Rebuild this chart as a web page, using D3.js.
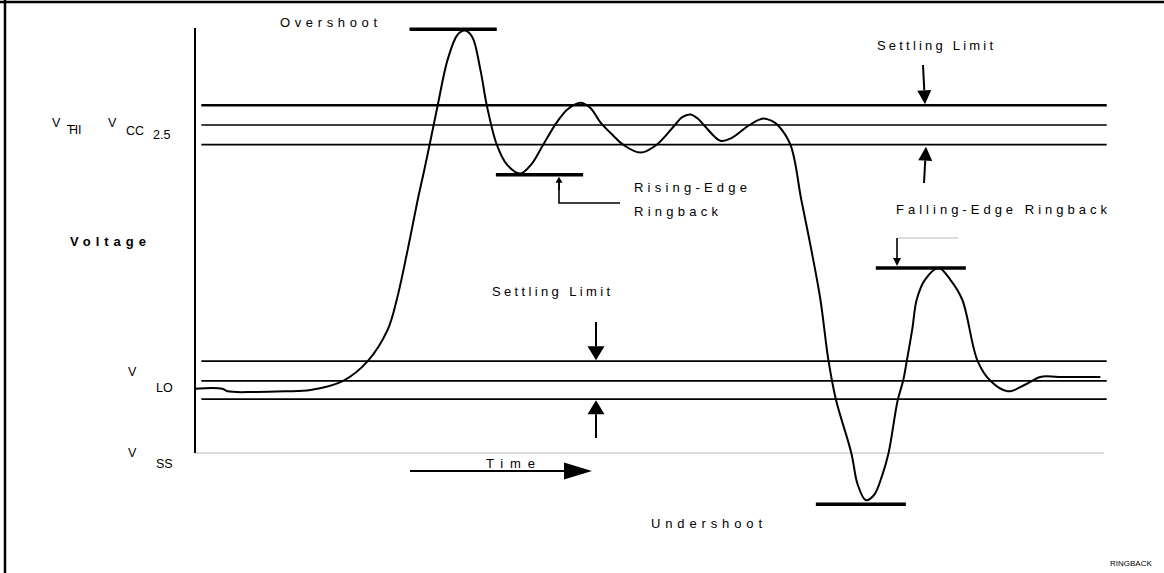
<!DOCTYPE html>
<html>
<head>
<meta charset="utf-8">
<script src="https://cdn.jsdelivr.net/npm/d3@7"></script>
<style>
  body { margin: 0; background: #fff; }
  text { font-family: "Liberation Sans", Arial, sans-serif; fill: #000; }
</style>
</head>
<body>
<script>
var width = 1164;
var height = 573;

// signal waveform (time in arbitrary units, voltage in V)
var sigTime = [0, 3.0, 3.6, 6.6, 9.9, 12.7, 16.3, 19.0, 21.2, 22.2, 23.4, 24.5, 25.2, 25.9, 26.7, 27.8, 28.9, 29.7,
    30.5, 31.4, 32.1, 33.2, 34.3, 35.8, 37.0, 38.3, 39.8, 41.0, 42.4, 43.5, 44.6, 46.0, 47.1, 49.0, 50.8, 52.8,
    53.6, 54.5, 55.3, 56.1, 57.8, 59.0, 61.0, 62.5, 63.5, 64.1, 65.5, 66.7, 67.8, 68.8, 69.7, 70.5, 72.2, 72.9,
    73.8, 74.7, 75.6, 76.3, 77.3, 77.9, 78.3, 78.9, 79.4, 80.3, 81.8, 83.1, 84.4, 86.1, 87.5, 89.4, 91.3, 93.0,
    95.0, 99.6];
var sigVolts = [0.49, 0.49, 0.47, 0.465, 0.47, 0.48, 0.55, 0.70, 0.94, 1.17, 1.55, 1.93, 2.15, 2.38, 2.65, 3.0, 3.19, 3.22,
    3.17, 2.92, 2.65, 2.35, 2.20, 2.13, 2.20, 2.35, 2.52, 2.62, 2.67, 2.63, 2.52, 2.42, 2.35, 2.29, 2.35, 2.50,
    2.56, 2.58, 2.55, 2.49, 2.38, 2.40, 2.50, 2.55, 2.53, 2.50, 2.35, 1.93, 1.55, 1.17, 0.70, 0.41, 0, -0.24,
    -0.36, -0.32, -0.17, 0, 0.40, 0.55, 0.70, 0.94, 1.17, 1.32, 1.41, 1.32, 1.17, 0.70, 0.55, 0.47, 0.52, 0.58,
    0.58, 0.58];

// settling limit bands
var upperLevels = [2.65, 2.5, 2.35];
var lowerLevels = [0.70, 0.55, 0.41];

// peak / ringback marker bars
var markNames = ["overshoot", "risingRingback", "undershoot", "fallingRingback"];
var markStart = [23.6, 33.1, 68.3, 74.9];
var markEnd = [33.2, 42.7, 78.2, 84.8];
var markLevel = [3.23, 2.12, -0.39, 1.41];

var svg = d3.select("body")
    .append("svg")
    .attr("width", width)
    .attr("height", height);

var x = d3.scaleLinear().domain([0, 100]).range([195, 1104]);
var y = d3.scaleLinear().domain([0, 2.5]).range([453, 125]);

// frame (top + left edges)
svg.append("line").attr("x1", 0).attr("x2", width).attr("y1", 2).attr("y2", 2)
    .attr("stroke", "#000").attr("stroke-width", 2.5);
svg.append("line").attr("x1", 5).attr("x2", 5).attr("y1", 0).attr("y2", height)
    .attr("stroke", "#000").attr("stroke-width", 2.5);

// ground line (0 V) and vertical axis
svg.append("line").attr("x1", x(0)).attr("x2", x(100)).attr("y1", y(0)).attr("y2", y(0))
    .attr("stroke", "#dcdcdc").attr("stroke-width", 2);
svg.append("line").attr("x1", x(0)).attr("x2", x(0)).attr("y1", 28).attr("y2", y(0))
    .attr("stroke", "#000").attr("stroke-width", 2);

// level lines
svg.append("g").selectAll("line")
    .data(upperLevels.concat(lowerLevels))
    .enter().append("line")
    .attr("x1", x(0.7)).attr("x2", x(100.3))
    .attr("y1", function(d) { return y(d); })
    .attr("y2", function(d) { return y(d); })
    .attr("stroke", "#000")
    .attr("stroke-width", function(d, i) { return i == 0 ? 2.4 : 1.7; });

// waveform
var line = d3.line()
    .x(function(d) { return x(d[0]); })
    .y(function(d) { return y(d[1]); })
    .curve(d3.curveCatmullRom.alpha(0.5));

svg.append("path")
    .datum(d3.zip(sigTime, sigVolts))
    .attr("d", line)
    .attr("fill", "none")
    .attr("stroke", "#000")
    .attr("stroke-width", 2);

// marker bars
svg.append("g").selectAll("line")
    .data(markNames)
    .enter().append("line")
    .attr("x1", function(d, i) { return x(markStart[i]); })
    .attr("x2", function(d, i) { return x(markEnd[i]); })
    .attr("y1", function(d, i) { return y(markLevel[i]); })
    .attr("y2", function(d, i) { return y(markLevel[i]); })
    .attr("stroke", "#000")
    .attr("stroke-width", 3.5);

// arrow helper: shaft from (x1,y1) to tip (x2,y2)
function arrow(x1, y1, x2, y2, len, wid, sw) {
    var a = Math.atan2(y2 - y1, x2 - x1);
    var bx = x2 - len * Math.cos(a), by = y2 - len * Math.sin(a);
    var px = Math.sin(a) * wid / 2, py = -Math.cos(a) * wid / 2;
    svg.append("line").attr("x1", x1).attr("y1", y1).attr("x2", bx).attr("y2", by)
        .attr("stroke", "#000").attr("stroke-width", sw);
    svg.append("path")
        .attr("d", "M" + x2 + "," + y2 + "L" + (bx + px) + "," + (by + py) + "L" + (bx - px) + "," + (by - py) + "Z")
        .attr("fill", "#000");
}

// settling limit arrows (top band)
arrow(923, 65, 925, y(2.65) - 1, 14, 14, 2);
arrow(924, 183, 926, y(2.35) + 2, 14, 14, 2);
// settling limit arrows (bottom band)
arrow(596, 322, 596, y(0.70) - 1, 14, 17, 2);
arrow(596, 438, 596, y(0.41) + 1, 14, 17, 2);
// time arrow
arrow(410, 471, 592, 471, 28, 17, 2);
// rising-edge ringback pointer
svg.append("path").attr("d", "M620,203H559V181").attr("fill", "none")
    .attr("stroke", "#000").attr("stroke-width", 1.6);
arrow(559, 190, 559, y(2.12) + 2, 6, 7, 1.6);
// falling-edge ringback pointer
svg.append("line").attr("x1", 898).attr("x2", 958).attr("y1", 238).attr("y2", 238)
    .attr("stroke", "#d0d0d0").attr("stroke-width", 1.5);
arrow(897, 238, 897, y(1.41) - 2, 8, 8, 1.6);

// spaced labels
var labels = [
    {t: "Overshoot", x: 280, y: 27, w: 97},
    {t: "Settling Limit", x: 877, y: 50, w: 116},
    {t: "Rising-Edge", x: 634, y: 192, w: 113},
    {t: "Ringback", x: 634, y: 216, w: 84},
    {t: "Falling-Edge Ringback", x: 896, y: 214, w: 211},
    {t: "Settling Limit", x: 492, y: 296, w: 118},
    {t: "Time", x: 486, y: 468, w: 49},
    {t: "Undershoot", x: 651, y: 528, w: 111}
];
svg.append("g").selectAll("text")
    .data(labels)
    .enter().append("text")
    .attr("x", function(d) { return d.x; })
    .attr("y", function(d) { return d.y; })
    .attr("textLength", function(d) { return d.w; })
    .attr("lengthAdjust", "spacing")
    .style("font-size", "13px")
    .text(function(d) { return d.t; });

svg.append("text").attr("x", 70).attr("y", 246)
    .attr("textLength", 76).attr("lengthAdjust", "spacing")
    .style("font-size", "13px").style("font-weight", "bold")
    .text("Voltage");

// level names on the left
var sideLabels = [
    {t: "V", x: 52, y: 127}, {t: "HI", x: 69, y: 134},
    {t: "V", x: 108, y: 127}, {t: "CC", x: 126, y: 135}, {t: "2.5", x: 153, y: 139},
    {t: "V", x: 128, y: 376}, {t: "LO", x: 156, y: 392},
    {t: "V", x: 128, y: 457}, {t: "SS", x: 156, y: 468}
];
svg.append("g").selectAll("text")
    .data(sideLabels)
    .enter().append("text")
    .attr("x", function(d) { return d.x; })
    .attr("y", function(d) { return d.y; })
    .style("font-size", "12.5px")
    .text(function(d) { return d.t; });

// stray "T" bar printed across the H of V_HI
svg.append("line").attr("x1", 67).attr("x2", 75).attr("y1", 125.5).attr("y2", 125.5)
    .attr("stroke", "#000").attr("stroke-width", 1);

svg.append("text").attr("x", 1110).attr("y", 566)
    .style("font-size", "8px").text("RINGBACK");
</script>
</body>
</html>
